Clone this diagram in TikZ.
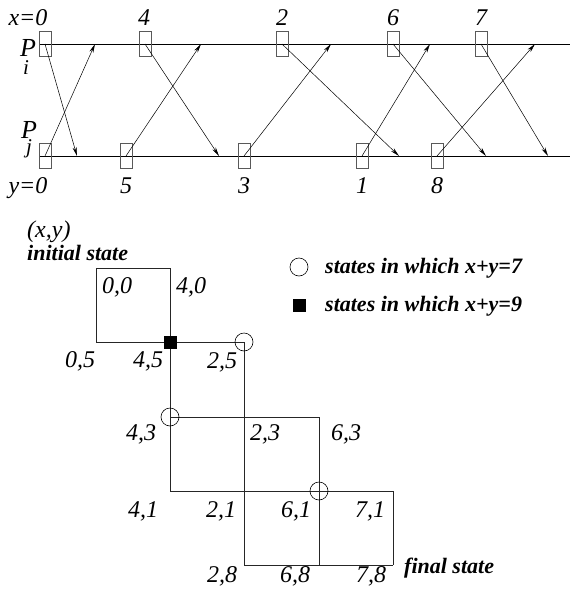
\documentclass[tikz,border=0pt]{standalone}
\usepackage{fontspec}
\setmainfont{Liberation Serif}
\usetikzlibrary{arrows.meta}
\begin{document}
\begin{tikzpicture}[x=1pt,y=-1pt,
  lab/.style={font=\fontsize{24}{28}\selectfont\itshape, inner sep=0pt, anchor=base},
  blab/.style={font=\fontsize{22}{26}\selectfont\bfseries\itshape, inner sep=0pt, anchor=base west},
  plab/.style={font=\itshape, inner sep=0pt, anchor=north, align=center},
  evbox/.style={draw=black!65, line width=0.8pt, minimum width=12pt, minimum height=25pt, inner sep=0pt},
  msg/.style={-{Stealth[length=9pt,width=4pt]}, line width=0.5pt},
  proc/.style={line width=0.7pt},
  gl/.style={line width=0.8pt, draw=black!85},
  st7/.style={circle, draw, line width=0.6pt, minimum size=18pt, inner sep=0pt},
  st9/.style={rectangle, fill=black, minimum size=13pt, inner sep=0pt}]
\useasboundingbox (0,0) rectangle (570,600);

% ---- process lines ----
\coordinate (pis) at (40,44); \coordinate (pie) at (570,44);
\coordinate (pjs) at (40,156); \coordinate (pje) at (570,156);
\draw[proc] (pis) -- (pie);
\draw[proc] (pjs) -- (pje);

\node[evbox] (a0) at (45,44) {};
\node[evbox] (a4) at (145,44) {};
\node[evbox] (a2) at (282,44) {};
\node[evbox] (a6) at (393,44) {};
\node[evbox] (a7) at (481,44) {};
\node[evbox] (b0) at (45,156) {};
\node[evbox] (b5) at (126,156) {};
\node[evbox] (b3) at (244,156) {};
\node[evbox] (b1) at (362,156) {};
\node[evbox] (b8) at (437,156) {};

\coordinate (ra0) at (77,156);
\coordinate (rb0) at (95,44);
\coordinate (ra4) at (219,156);
\coordinate (rb5) at (201,44);
\coordinate (ra2) at (399,156);
\coordinate (rb3) at (331,44);
\coordinate (ra6) at (486,156);
\coordinate (rb1) at (430,44);
\coordinate (ra7) at (548,156);
\coordinate (rb8) at (535,44);

\draw[msg] (a0.center) -- (ra0);
\draw[msg] (b0.center) -- (rb0);
\draw[msg] (a4.center) -- (ra4);
\draw[msg] (b5.center) -- (rb5);
\draw[msg] (a2.center) -- (ra2);
\draw[msg] (b3.center) -- (rb3);
\draw[msg] (a6.center) -- (ra6);
\draw[msg] (b1.center) -- (rb1);
\draw[msg] (a7.center) -- (ra7);
\draw[msg] (b8.center) -- (rb8);

\node[lab] (tx0) at (28,25) {x=0};
\node[lab] (t4) at (144,25) {4};
\node[lab] (t2) at (282,25) {2};
\node[lab] (t6) at (393,25) {6};
\node[lab] (t7) at (481,25) {7};
\node[lab] (ty0) at (28,193) {y=0};
\node[lab] (t5) at (126,193) {5};
\node[lab] (t3) at (244,193) {3};
\node[lab] (t1) at (362,193) {1};
\node[lab] (t8) at (437,193) {8};

\node[plab] (Pi) at (28,39) {\fontsize{26}{21}\selectfont P\\[3pt]\fontsize{21}{21}\selectfont\hspace*{-4pt}i};
\node[plab] (Pj) at (29,121) {\fontsize{26}{15}\selectfont P\\\fontsize{21}{15}\selectfont j};

% ---- lattice ----
\foreach \i/\cx in {0/96,1/170,2/244,3/319,4/393}{
  \foreach \j/\ry in {0/268,1/342,2/417,3/491,4/565}{
    \coordinate (g\i\j) at (\cx,\ry);
  }
}
\draw[gl] (g00) -- (g10) -- (g11) -- (g01) -- cycle;
\draw[gl] (g11) -- (g21);
\draw[gl] (g11) -- (g13);
\draw[gl] (g21) -- (g24);
\draw[gl] (g12) -- (g32);
\draw[gl] (g32) -- (g34);
\draw[gl] (g13) -- (g43);
\draw[gl] (g43) -- (g44);
\draw[gl] (g24) -- (g44);

\node[st9] (m45) at (g11) {};
\node[st7] (m25) at (g21) {};
\node[st7] (m43) at (g12) {};
\node[st7] (m61) at (g33) {};

\node[lab] (l00) at (117,293) {0,0};
\node[lab] (l40) at (191,293) {4,0};
\node[lab] (l05) at (80,367) {0,5};
\node[lab] (l45) at (148,367) {4,5};
\node[lab] (l25) at (222,368) {2,5};
\node[lab] (l43) at (141,440) {4,3};
\node[lab] (l23) at (265,440) {2,3};
\node[lab] (l63) at (346,440) {6,3};
\node[lab] (l41) at (143,517) {4,1};
\node[lab] (l21) at (221,517) {2,1};
\node[lab] (l61) at (296,517) {6,1};
\node[lab] (l71) at (370,517) {7,1};
\node[lab] (l28) at (222,582) {2,8};
\node[lab] (l68) at (295,582) {6,8};
\node[lab] (l78) at (371,582) {7,8};

\node[lab, anchor=base west] (xy) at (27,237) {(x,y)};
\node[blab] (init) at (27,260) {initial state};
\node[blab] (fin) at (404,573) {final state};

% ---- legend ----
\node[st7] (leg7) at (299,267) {};
\node[st9] (leg9) at (299,305) {};
\node[blab] (leg7t) at (325,273) {states in which x+y=7};
\node[blab] (leg9t) at (325,311) {states in which x+y=9};
\end{tikzpicture}
\end{document}
